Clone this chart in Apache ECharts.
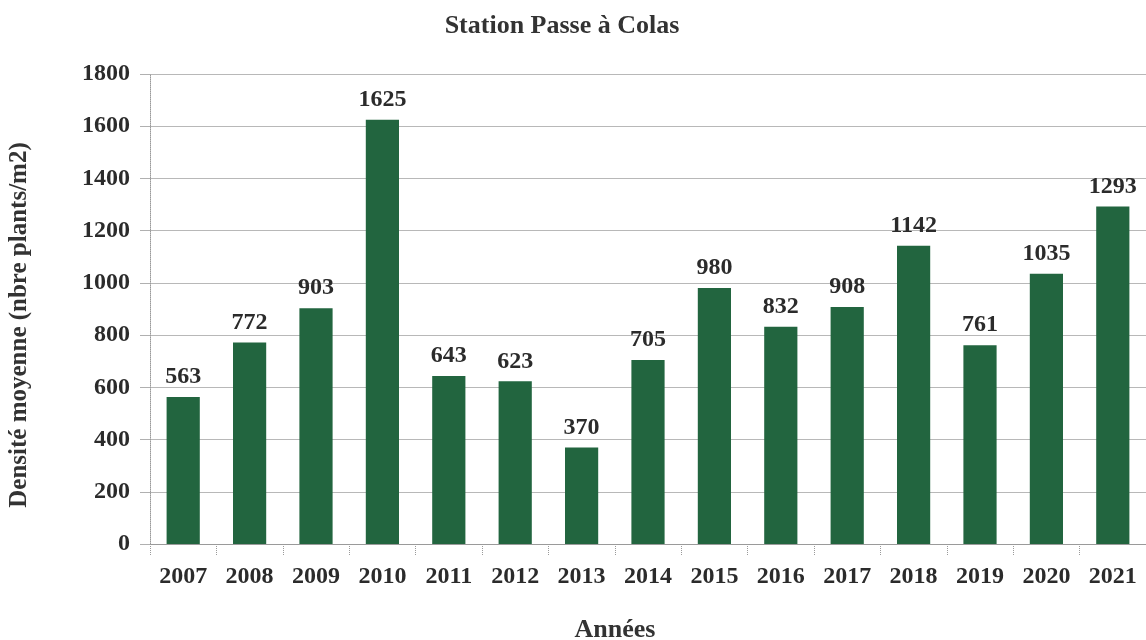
<!DOCTYPE html>
<html>
<head>
<meta charset="utf-8">
<title>Station Passe à Colas</title>
<script src="https://cdn.jsdelivr.net/npm/echarts@6/dist/echarts.min.js"></script>
<style>
  html, body { margin: 0; padding: 0; background: #ffffff; }
  #chart { width: 1146px; height: 640px; }
</style>
</head>
<body>
<div id="chart"></div>
<script>
// Mean plant density per year at the station
const years = ['2007', '2008', '2009', '2010', '2011', '2012', '2013', '2014',
               '2015', '2016', '2017', '2018', '2019', '2020', '2021'];
const density = [563, 772, 903, 1625, 643, 623, 370, 705, 980, 832, 908, 1142, 761, 1035, 1293];
const yTicks = { min: 0, max: 1800, interval: 200 };

const chartTitle = 'Station Passe à Colas';
const xTitle = 'Années';
const yTitle = 'Densité moyenne (nbre plants/m2)';

const serif = '"Liberation Serif", "Times New Roman", serif';
const textColor = '#2b2b2b';

const chart = echarts.init(document.getElementById('chart'));

chart.setOption({
  backgroundColor: '#ffffff',
  animation: false,
  grid: { left: 150, top: 74, width: 999, height: 470, containLabel: false },
  graphic: [
    {
      type: 'text', x: 562, y: 26,
      style: { text: chartTitle, font: 'bold 26px ' + serif, fill: '#333333', textAlign: 'center', textVerticalAlign: 'middle' }
    },
    {
      type: 'text', x: 615, y: 630,
      style: { text: xTitle, font: 'bold 26px ' + serif, fill: '#333333', textAlign: 'center', textVerticalAlign: 'middle' }
    },
    {
      type: 'text', x: 20, y: 325, rotation: Math.PI / 2,
      style: { text: yTitle, font: 'bold 25px ' + serif, fill: '#333333', textAlign: 'center', textVerticalAlign: 'middle' }
    }
  ],
  xAxis: {
    type: 'category',
    data: years,
    boundaryGap: true,
    axisLine: { show: true, lineStyle: { color: '#9a9a9a', width: 1 } },
    axisTick: { show: true, alignWithLabel: false, length: 12, lineStyle: { color: '#9a9a9a', type: 'dotted' } },
    axisLabel: { margin: 21, fontFamily: serif, fontWeight: 'bold', fontSize: 24, color: textColor }
  },
  yAxis: {
    type: 'value',
    min: yTicks.min, max: yTicks.max, interval: yTicks.interval,
    axisLine: { show: true, lineStyle: { color: '#9a9a9a', type: 'dotted' } },
    axisTick: { show: true, length: 10, lineStyle: { color: '#b0b0b0' } },
    axisLabel: {
      margin: 20, fontFamily: serif, fontWeight: 'bold', fontSize: 24, color: textColor,
      formatter: (v) => String(v)
    },
    splitLine: { show: true, lineStyle: { color: '#b8b8b8', width: 1 } }
  },
  series: [{
    type: 'bar',
    data: density,
    barWidth: '50%',
    itemStyle: { color: '#22653f' },
    label: {
      show: true, position: 'top', distance: 8,
      fontFamily: serif, fontWeight: 'bold', fontSize: 24, color: textColor
    }
  }]
});
</script>
</body>
</html>
